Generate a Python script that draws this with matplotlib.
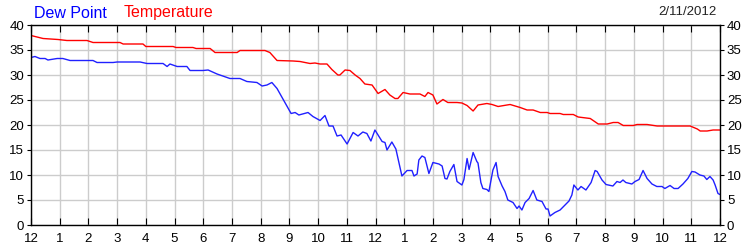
import matplotlib
matplotlib.use('Agg')
import matplotlib.pyplot as plt

# hours since midnight and readings
temp_hours = [0.0, 0.42, 0.94, 1.25, 1.95, 2.16, 3.10, 3.21, 3.90, 4.0, 4.95, 5.05, 5.64, 5.75,
              6.24, 6.41, 7.18, 7.28, 8.15, 8.32, 8.57, 9.13, 9.37, 9.72, 9.89, 10.07, 10.31,
              10.48, 10.69, 10.76, 10.94, 11.11, 11.29, 11.46, 11.63, 11.88, 12.09, 12.33, 12.50,
              12.68, 12.78, 12.96, 13.20, 13.55, 13.72, 13.83, 14.00, 14.14, 14.35, 14.52, 14.84,
              15.01, 15.19, 15.40, 15.57, 15.88, 16.06, 16.27, 16.58, 16.69, 17.04, 17.28, 17.49,
              17.74, 17.98, 18.08, 18.43, 18.54, 18.89, 19.06, 19.48, 19.76, 20.07, 20.28, 20.45,
              20.63, 20.98, 21.11, 21.46, 21.81, 22.96, 23.21, 23.31, 23.55, 23.76, 24.0]
temperature = [37.9, 37.3, 37.1, 36.9, 36.9, 36.5, 36.5, 36.2, 36.2, 35.7, 35.7, 35.5, 35.5, 35.3,
               35.3, 34.5, 34.5, 34.9, 34.9, 34.5, 32.9, 32.8, 32.7, 32.3, 32.4, 32.2, 32.2,
               31.1, 30.0, 30.0, 31.0, 30.9, 30.0, 29.3, 28.2, 28.0, 26.3, 27.1, 26.0,
               25.3, 25.3, 26.5, 26.2, 26.2, 25.7, 26.5, 26.0, 24.2, 25.1, 24.5, 24.5,
               24.4, 23.9, 22.8, 24.0, 24.3, 24.1, 23.7, 24.0, 24.1, 23.5, 23.0, 23.0,
               22.5, 22.5, 22.3, 22.3, 22.1, 22.1, 21.6, 21.3, 20.2, 20.2, 20.5, 20.5,
               19.9, 19.9, 20.1, 20.1, 19.8, 19.8, 19.2, 18.8, 18.8, 19.0, 19.0]

dew_hours = [0.00, 0.14, 0.31, 0.49, 0.59, 0.91, 1.11, 1.36, 2.16, 2.30, 2.86, 3.00, 3.80, 4.04,
             4.60, 4.74, 4.84, 5.09, 5.43, 5.54, 5.99, 6.17, 6.48, 6.93, 7.28, 7.52, 7.87, 8.05,
             8.22, 8.39, 8.57, 9.06, 9.20, 9.33, 9.65, 9.82, 10.07, 10.24, 10.38, 10.52, 10.66,
             10.80, 11.01, 11.22, 11.39, 11.56, 11.70, 11.84, 11.98, 12.23, 12.33, 12.40, 12.57,
             12.71, 12.92, 13.10, 13.27, 13.34, 13.45, 13.51, 13.62, 13.72, 13.86, 14.00, 14.21,
             14.32, 14.42, 14.49, 14.59, 14.73, 14.84, 15.01, 15.08, 15.19, 15.26, 15.40, 15.53,
             15.57, 15.67, 15.74, 15.88, 15.95, 16.09, 16.20, 16.27, 16.41, 16.51, 16.61, 16.79,
             16.93, 17.00, 17.10, 17.21, 17.35, 17.49, 17.62, 17.80, 17.94, 18.01, 18.08, 18.25,
             18.43, 18.60, 18.74, 18.84, 18.91, 19.05, 19.16, 19.33, 19.51, 19.65, 19.72, 19.89,
             20.03, 20.27, 20.41, 20.52, 20.62, 20.72, 20.93, 21.04, 21.18, 21.32, 21.46, 21.63,
             21.80, 21.98, 22.08, 22.26, 22.40, 22.54, 22.71, 22.88, 23.02, 23.13, 23.30, 23.44,
             23.54, 23.65, 23.76, 23.83, 23.93, 24.00]
dew_point = [33.5, 33.7, 33.3, 33.3, 33.0, 33.3, 33.3, 32.9, 32.9, 32.5, 32.5, 32.6, 32.6, 32.3,
             32.3, 31.7, 32.2, 31.7, 31.7, 30.9, 30.9, 31.0, 30.2, 29.3, 29.3, 28.7, 28.5, 27.8,
             28.0, 28.5, 27.3, 22.3, 22.5, 22.0, 22.5, 21.7, 20.9, 21.9, 19.8, 19.8, 17.8,
             18.0, 16.2, 18.5, 17.8, 18.6, 18.3, 16.8, 19.0, 16.7, 16.5, 15.0, 16.6,
             15.2, 9.8, 10.9, 10.9, 9.8, 10.2, 13.0, 13.8, 13.5, 10.3, 12.5, 12.2,
             11.8, 9.3, 9.2, 10.7, 12.1, 8.7, 8.0, 9.1, 13.3, 11.1, 14.5, 12.7,
             12.4, 8.5, 7.3, 7.1, 6.7, 11.0, 12.5, 9.7, 7.8, 6.7, 5.0, 4.5,
             3.3, 3.8, 3.0, 4.5, 5.3, 6.9, 5.0, 4.7, 3.2, 3.2, 1.8, 2.5,
             3.0, 4.0, 4.8, 6.0, 8.0, 7.0, 7.7, 7.0, 8.5, 10.9, 10.7, 9.0,
             8.1, 7.8, 8.7, 8.5, 9.0, 8.5, 8.2, 8.7, 9.1, 10.9, 9.3, 8.2,
             7.7, 7.7, 7.3, 7.9, 7.3, 7.3, 8.2, 9.3, 10.7, 10.6, 10.0, 9.8,
             9.1, 9.7, 9.0, 8.0, 6.3, 6.1]

hour_labels = ['12', '1', '2', '3', '4', '5', '6', '7', '8', '9', '10', '11',
               '12', '1', '2', '3', '4', '5', '6', '7', '8', '9', '10', '11', '12']
date_label = '2/11/2012'

plt.rcParams['font.family'] = ['Liberation Sans', 'DejaVu Sans']

fig = plt.figure(figsize=(7.5, 2.5), dpi=100)
ax = fig.add_axes([31/750, 25/250, 689/750, 200/250])

ax.plot(temp_hours, temperature, color='#ff0000', lw=1.0)
ax.plot(dew_hours, dew_point, color='#2020ff', lw=1.0)

ax.set_xlim(0, 24)
ax.set_ylim(0, 40)
ax.set_xticks(range(25))
ax.set_xticklabels(hour_labels, fontsize=9.5)
ax.set_yticks(range(0, 41, 5))
ax.tick_params(axis='y', labelsize=9.5, left=True, right=True, labelleft=True, labelright=True,
               direction='out', length=3, pad=2)
ax.tick_params(axis='x', top=True, bottom=True, direction='in', length=5, pad=6)
ax.grid(True, color='#cccccc', lw=1.0)
ax.set_axisbelow(True)
for s in ax.spines.values():
    s.set_linewidth(1.0)
    s.set_color('black')

fig.text(34/750, 1 - 13/250, 'Dew Point', color='#0000ff', fontsize=11.5, va='center', ha='left')
fig.text(124/750, 1 - 13/250, 'Temperature', color='#ff0000', fontsize=11.5, va='center', ha='left')
fig.text(717/750, 1 - 12/250, date_label, color='#222222', fontsize=9.5, va='center', ha='right')

fig.savefig('out.png', dpi=100)
